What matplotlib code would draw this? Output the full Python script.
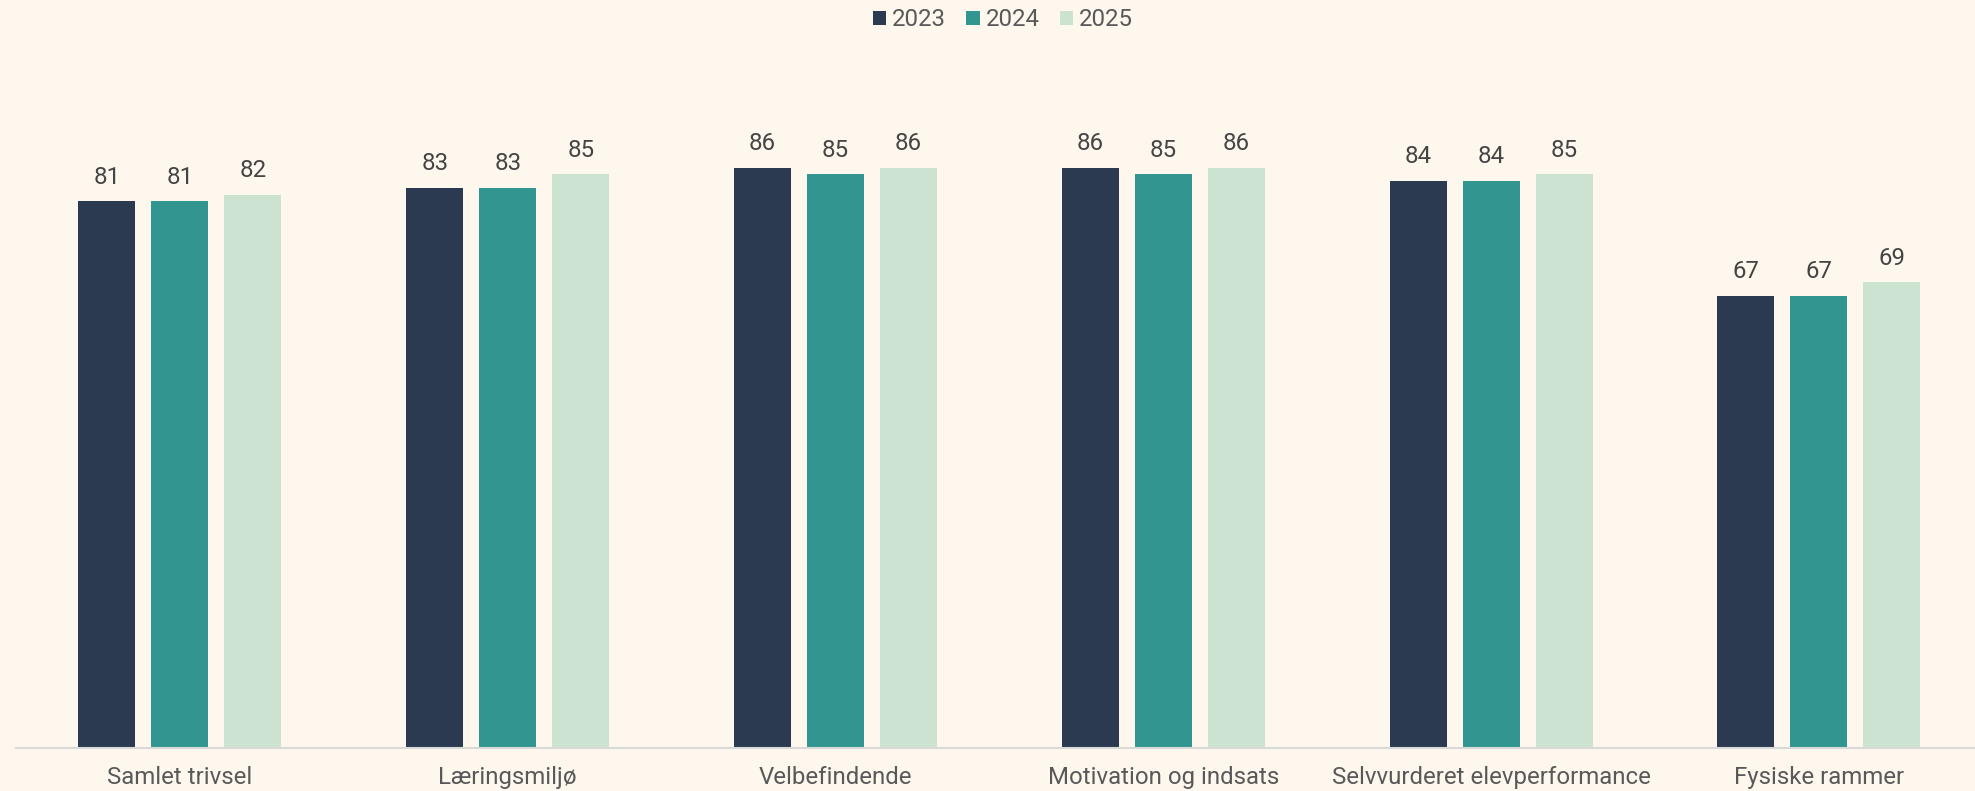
import matplotlib
matplotlib.use("Agg")
import matplotlib.pyplot as plt
import numpy as np
from matplotlib.patches import Patch

categories = ["Samlet trivsel", "Læringsmiljø", "Velbefindende", "Motivation og indsats",
              "Selvvurderet elevperformance", "Fysiske rammer"]
years = ["2023", "2024", "2025"]
v2023 = [81, 83, 86, 86, 84, 67]
v2024 = [81, 83, 85, 85, 84, 67]
v2025 = [82, 85, 86, 86, 85, 69]
series = [v2023, v2024, v2025]
colors = ["#2b3a50", "#30968f", "#cce3d2"]

plt.rcParams['font.family'] = ['Roboto', 'DejaVu Sans']
bg = "#fef7ed"
W, H = 1975, 791
fig = plt.figure(figsize=(W/100, H/100), dpi=100, facecolor=bg)
left, right, bottom, top = 16, 1975, 748, 73
ax = fig.add_axes([left/W, 1 - bottom/H, (right-left)/W, (bottom-top)/H])
ax.set_facecolor(bg)

fs = 17.3
unit = 327.8
x = np.arange(len(categories))
bw = 57/unit
off = 73/unit
for i, (vals, c, yr) in enumerate(zip(series, colors, years)):
    xs = x + (i-1)*off
    ax.bar(xs, vals, width=bw, color=c, label=yr)
    for xi, v in zip(xs, vals):
        ax.annotate(f"{v}", (xi, v), xytext=(0, 12.7), textcoords="offset points",
                    ha="center", va="baseline", fontsize=fs, color="#444444")

ax.set_xlim(-0.5, -0.5 + (right-left)/unit)
ax.set_ylim(0, 100)
for s in ["top", "right", "left"]:
    ax.spines[s].set_visible(False)
ax.spines["bottom"].set_color("#d9d9d9")
ax.spines["bottom"].set_linewidth(1.5)
ax.set_yticks([])
ax.set_xticks(x)
ax.set_xticklabels(categories, fontsize=fs, color="#595959")
ax.tick_params(axis="x", length=0, pad=13)

handles = [Patch(facecolor=c, label=y) for c, y in zip(colors, years)]
fig.legend(handles=handles, loc="center", bbox_to_anchor=(1003/W, 1 - 20/H), ncol=3,
           frameon=False, fontsize=fs, handlelength=0.55, handleheight=0.55,
           handletextpad=0.25, columnspacing=0.85, labelcolor="#595959")

fig.savefig("out.png", dpi=100, facecolor=bg)
